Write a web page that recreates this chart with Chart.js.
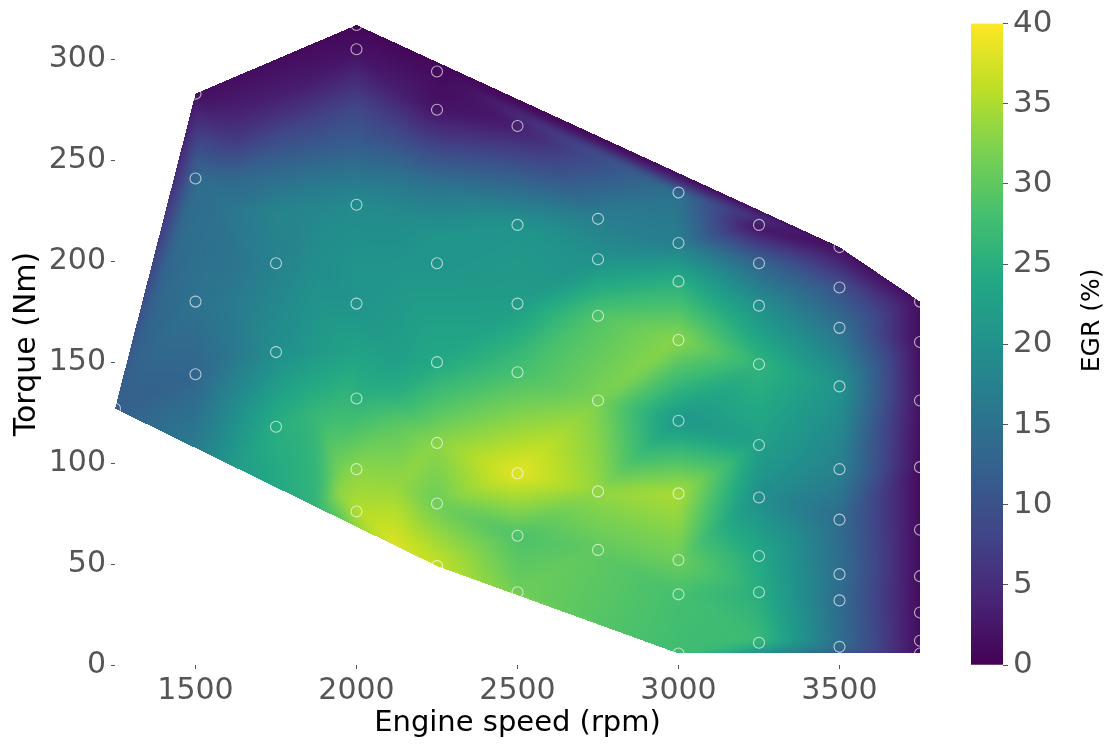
<!DOCTYPE html>
<html>
<head>
<meta charset="utf-8">
<script src="https://cdn.jsdelivr.net/npm/chart.js@4/dist/chart.umd.min.js"></script>
<style>
html,body{margin:0;padding:0;background:#fff;overflow:hidden}
canvas{position:absolute;top:0}
#main{left:0}
#bar{left:960px}
</style>
</head>
<body>
<canvas id="main" width="960" height="747"></canvas>
<canvas id="bar" width="151" height="747"></canvas>
<script>
const speedRpm = [1250,
 1500,1500,1500,1500,
 1750,1750,1750,
 2000,2000,2000,2000,2000,2000,2000,
 2250,2250,2250,2250,2250,2250,2250,
 2500,2500,2500,2500,2500,2500,2500,
 2750,2750,2750,2750,2750,2750,
 3000,3000,3000,3000,3000,3000,3000,3000,3000,
 3250,3250,3250,3250,3250,3250,3250,3250,3250,
 3500,3500,3500,3500,3500,3500,3500,3500,3500,
 3750,3750,3750,3750,3750,3750,3750,3750,3750];
const torqueNm = [127,
 283,241,180,144,
 199,155,118,
 317,305,228,179,132,97,76,
 294,275,199,150,110,80,49,
 267,218,179,145,95,64,36,
 221,201,173,131,86,57,
 234,209,190,161,121,85,52,35,5.7,
 218,199,178,149,109,83,54,36,11,
 207,187,167,138,97,72,45,32,9,
 180,160,131,98,67,44,26,12,5.7];
const egrPct = [12,
 1.5,14,15,13,
 17.5,19.5,25,
 0.5,1.5,19,20.5,25.5,33,35.5,
 1,2,20.5,24,33,31,36.5,
 3,20.5,22,28,38.5,28.5,31,
 17,20,29,32,33.5,30,
 15,17,25,33,21,35,31,28,27.5,
 1,13,20,26,22.5,19.5,24,25,27,
 1,10,15,20.5,17.5,14,14.5,14,14.5,
 1,1,1.5,1,1,1,1,1,1];
// Colours read off the field between the markers, no marker drawn there
const fieldSpeed  = [
 1875,2000,2125,
 1625,1750,1875,2000,2125,
 1625,1750,1875,2000,2125,2250,
 1625,1750,1875,2000,2125,2250,
 1625,1750,1875,2125,2250,
 1625,1875,2000,2125,
 1625,1750,1875,2000,2125,
 1625,1875,2125,2125,
 1625,1875,2125,1937.5,1937.5,2125,
 1500,1625,1750,1875,1937.5,2000,2125];
const fieldTorque = [
 290,290,283,
 274,274,274,274,274,
 257,257,257,257,257,254,
 241,241,241,241,241,238,
 224,224,224,224,214,
 199,199,199,199,
 179,179,179,155,150,
 155,155,135,120,
 130,125,103,100,85,90,
 107.5,97.75,88,78.25,73.4,68.5,58.75];
const fieldEgr    = [
 3,5,3.5,
 3.5,5,7,9,6,
 7.5,10,11,12,10.5,9,
 13.5,14.5,15.5,16,15.5,15,
 16,18,18.5,19,20.5,
 15.5,19.5,20.5,20.5,
 16.5,18.5,20.5,23,22.5,
 16,21.5,25,29.5,
 19,26.5,32,31,33,33.5,
 16.5,22,24,26,29,33,38];

const xTickValues = [1500,2000,2500,3000,3500];
const yTickValues = [0,50,100,150,200,250,300];
const barTickValues = [0,5,10,15,20,25,30,35,40];
const viridisStops = ['#440154','#482475','#414487','#355f8d','#2a788e','#21918c','#22a884','#44bf70','#7ad151','#bddf26','#fde725'];

const FONT = '"DejaVu Sans"';
const TICK_COLOR = '#555555';
const stopRgb = viridisStops.map(h => [1,3,5].map(i => parseInt(h.slice(i,i+2),16)));
function viridis(v){
  const t = Math.max(0,Math.min(1,v/40))*(stopRgb.length-1);
  const i = Math.min(stopRgb.length-2,Math.floor(t)), f = t-i;
  return stopRgb[i].map((c,k)=>c+(stopRgb[i+1][k]-c)*f);
}

function triangulate(px,py){
  const n = px.length, M = 1e7;
  const X = px.concat([-M,M,0]), Y = py.concat([-M,-M,M]);
  let tris = [[n,n+1,n+2]];
  function inCirc(t,p){
    const [a,b,c]=t;
    const ax=X[a]-X[p],ay=Y[a]-Y[p],bx=X[b]-X[p],by=Y[b]-Y[p],cx=X[c]-X[p],cy=Y[c]-Y[p];
    const d=(ax*ax+ay*ay)*(bx*cy-cx*by)-(bx*bx+by*by)*(ax*cy-cx*ay)+(cx*cx+cy*cy)*(ax*by-bx*ay);
    const o=(X[b]-X[a])*(Y[c]-Y[a])-(Y[b]-Y[a])*(X[c]-X[a]);
    return o>0?d>0:d<0;
  }
  for(let p=0;p<n;p++){
    const bad=[],keep=[];
    tris.forEach(t=>(inCirc(t,p)?bad:keep).push(t));
    const edges=new Map();
    bad.forEach(t=>{
      [[t[0],t[1]],[t[1],t[2]],[t[2],t[0]]].forEach(([a,b])=>{
        const k=a<b?a+'_'+b:b+'_'+a;
        edges.set(k,edges.has(k)?null:[a,b]);
      });
    });
    tris=keep;
    edges.forEach(e=>{ if(e) tris.push([e[0],e[1],p]); });
  }
  return tris.filter(t=>t.every(v=>v<n));
}

const allSpeed = speedRpm.concat(fieldSpeed);
const allTorque = torqueNm.concat(fieldTorque);
const allEgr = egrPct.concat(fieldEgr);
const triangles = triangulate(allSpeed,allTorque);

let fieldCache = null;
function buildField(chart){
  const a = chart.chartArea, xs = chart.scales.x, ys = chart.scales.y;
  const W = Math.ceil(a.right), H = Math.ceil(a.bottom);
  const raw = document.createElement('canvas'); raw.width=W; raw.height=H;
  const rc = raw.getContext('2d');
  const img = rc.createImageData(W,H);
  const PX = allSpeed.map(v=>xs.getPixelForValue(v));
  const PY = allTorque.map(v=>ys.getPixelForValue(v));
  triangles.forEach(([A,B,C])=>{
    const det=(PY[B]-PY[C])*(PX[A]-PX[C])+(PX[C]-PX[B])*(PY[A]-PY[C]);
    if(Math.abs(det)<1e-9) return;
    const x0=Math.max(0,Math.floor(Math.min(PX[A],PX[B],PX[C]))),x1=Math.min(W-1,Math.ceil(Math.max(PX[A],PX[B],PX[C])));
    const y0=Math.max(0,Math.floor(Math.min(PY[A],PY[B],PY[C]))),y1=Math.min(H-1,Math.ceil(Math.max(PY[A],PY[B],PY[C])));
    for(let y=y0;y<=y1;y++)for(let x=x0;x<=x1;x++){
      const l1=((PY[B]-PY[C])*(x+.5-PX[C])+(PX[C]-PX[B])*(y+.5-PY[C]))/det;
      const l2=((PY[C]-PY[A])*(x+.5-PX[C])+(PX[A]-PX[C])*(y+.5-PY[C]))/det;
      const l3=1-l1-l2;
      if(l1<-1e-6||l2<-1e-6||l3<-1e-6) continue;
      const c=viridis(l1*allEgr[A]+l2*allEgr[B]+l3*allEgr[C]);
      const o=(y*W+x)*4;
      img.data[o]=c[0];img.data[o+1]=c[1];img.data[o+2]=c[2];img.data[o+3]=255;
    }
  });
  rc.putImageData(img,0,0);
  const out = document.createElement('canvas'); out.width=W; out.height=H;
  const oc = out.getContext('2d');
  oc.drawImage(raw,0,0);
  oc.globalCompositeOperation='source-atop';
  oc.filter='blur(4px)';
  oc.drawImage(raw,0,0);
  return out;
}

const fieldPlugin = {
  id:'field',
  beforeDatasetsDraw(chart){
    if(!fieldCache) fieldCache = buildField(chart);
    chart.ctx.drawImage(fieldCache,0,0);
  }
};
const plainNumber = v => String(v);
const axisGrid = {display:true,drawOnChartArea:false,drawTicks:true,tickLength:4,tickWidth:1,tickColor:'#555555'};

new Chart(document.getElementById('main'),{
  type:'scatter',
  data:{datasets:[{
    data:speedRpm.map((s,i)=>({x:s,y:torqueNm[i]})),
    pointRadius:5.5,
    pointBorderWidth:1.1,
    pointBorderColor:'rgba(255,255,255,0.65)',
    pointBackgroundColor:'rgba(0,0,0,0)'
  }]},
  plugins:[fieldPlugin],
  options:{
    responsive:false,
    animation:false,
    devicePixelRatio:1,
    layout:{padding:{top:20.5,right:40,left:0,bottom:0}},
    plugins:{legend:{display:false},tooltip:{enabled:false}},
    scales:{
      x:{
        type:'linear',min:1250,max:3750,
        grid:axisGrid,
        border:{display:false},
        afterBuildTicks:a=>{a.ticks=xTickValues.map(v=>({value:v}));},
        afterFit:a=>{a.height=82;},
        ticks:{color:TICK_COLOR,font:{family:FONT,size:30},maxRotation:0,autoSkip:false,padding:4,callback:plainNumber},
        title:{display:true,text:'Engine speed (rpm)',color:'#000',font:{family:FONT,size:29},padding:{top:0,bottom:6}}
      },
      y:{
        min:0,max:318,
        grid:axisGrid,
        border:{display:false},
        afterBuildTicks:a=>{a.ticks=yTickValues.map(v=>({value:v}));},
        afterFit:a=>{a.width=115;},
        ticks:{color:TICK_COLOR,font:{family:FONT,size:30},autoSkip:false,padding:5,callback:plainNumber},
        title:{display:true,text:'Torque (Nm)',color:'#000',font:{family:FONT,size:30},padding:{top:9,bottom:0}}
      }
    }
  }
});

const rotatedTitle = {
  id:'rotatedTitle',
  afterDraw(chart){
    const c=chart.ctx;
    c.save();
    c.translate(132,(chart.chartArea.top+chart.chartArea.bottom)/2-24);
    c.rotate(-Math.PI/2);
    c.textAlign='center';c.textBaseline='middle';
    c.fillStyle='#000';
    c.font='25px '+FONT;
    c.fillText('EGR (%)',0,0);
    c.restore();
  }
};

new Chart(document.getElementById('bar'),{
  type:'bar',
  data:{labels:['EGR'],datasets:[{
    data:[[0,40]],
    borderWidth:0,
    categoryPercentage:1,barPercentage:1,
    backgroundColor(ctx){
      const a=ctx.chart.chartArea;
      if(!a) return viridisStops[5];
      const g=ctx.chart.ctx.createLinearGradient(0,a.bottom,0,a.top);
      viridisStops.forEach((s,i)=>g.addColorStop(i/(viridisStops.length-1),s));
      return g;
    }
  }]},
  plugins:[rotatedTitle],
  options:{
    responsive:false,
    animation:false,
    devicePixelRatio:1,
    layout:{padding:{top:22,left:11,right:0,bottom:82}},
    plugins:{legend:{display:false},tooltip:{enabled:false}},
    scales:{
      x:{display:false},
      y:{
        position:'right',min:0,max:40,
        grid:{display:true,drawOnChartArea:false,drawTicks:true,tickLength:5,tickWidth:1,tickColor:'#555555'},
        border:{display:false},
        afterBuildTicks:a=>{a.ticks=barTickValues.map(v=>({value:v}));},
        afterFit:a=>{a.width=108;},
        ticks:{color:TICK_COLOR,font:{family:FONT,size:31},autoSkip:false,padding:5,callback:plainNumber}
      }
    }
  }
});
</script>
</body>
</html>
